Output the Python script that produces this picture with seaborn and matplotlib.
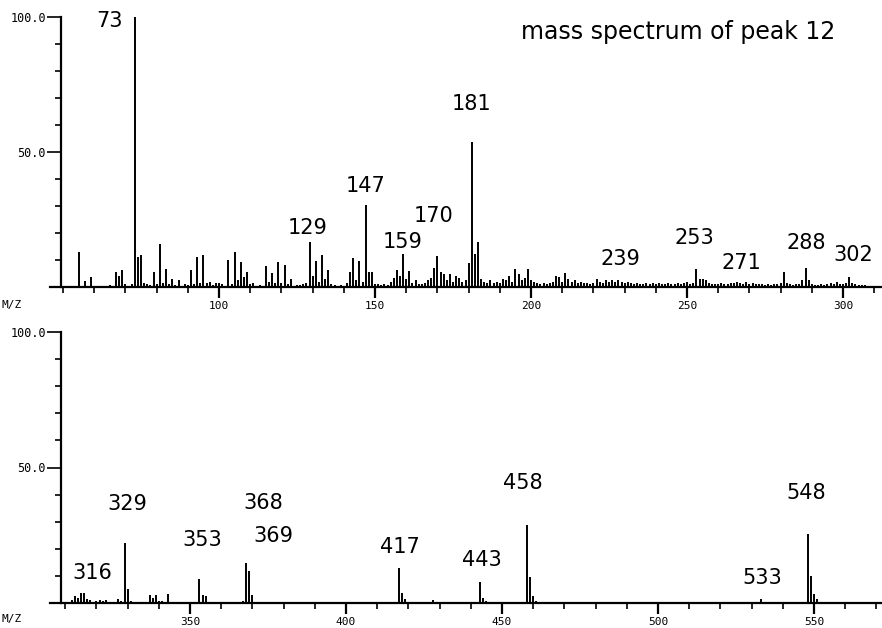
import matplotlib
matplotlib.use("Agg")
import matplotlib.pyplot as plt
import seaborn as sns
from matplotlib.ticker import MultipleLocator

sns.set_style("ticks")
plt.rcParams['font.family'] = ['DejaVu Sans']
plt.rcParams['text.color'] = 'black'
plt.rcParams['xtick.color'] = 'black'
plt.rcParams['ytick.color'] = 'black'
plt.rcParams['axes.edgecolor'] = 'black'

# upper panel: m/z 50-310
top_mz = [55, 57, 59, 60, 63, 65, 67, 68, 69, 70, 72, 73, 74, 75, 76, 77, 78, 79, 80,
          81, 82, 83, 84, 85, 86, 87, 89, 90, 91, 92, 93, 94, 95, 96, 97, 98, 99, 100,
          101, 102, 103, 104, 105, 106, 107, 108, 109, 110, 111, 113, 115, 116, 117,
          118, 119, 120, 121, 122, 123, 125, 126, 127, 128, 129, 130, 131, 132, 133,
          134, 135, 136, 137, 139, 141, 142, 143, 144, 145, 146, 147, 148, 149, 150,
          151, 152, 153, 154, 155, 156, 157, 158, 159, 160, 161, 162, 163, 164, 165,
          166, 167, 168, 169, 170, 171, 172, 173, 174, 175, 176, 177, 178, 179, 180,
          181, 182, 183, 184, 185, 186, 187, 188, 189, 190, 191, 192, 193, 194, 195,
          196, 197, 198, 199, 200, 201, 202, 203, 204, 205, 206, 207, 208, 209, 210,
          211, 212, 213, 214, 215, 216, 217, 218, 219, 220, 221, 222, 223, 224, 225,
          226, 227, 228, 229, 230, 231, 232, 233, 234, 235, 236, 237, 238, 239, 240,
          241, 242, 243, 244, 245, 246, 247, 248, 249, 250, 251, 252, 253, 254, 255,
          256, 257, 258, 259, 260, 261, 262, 263, 264, 265, 266, 267, 268, 269, 270,
          271, 272, 273, 274, 275, 276, 277, 278, 279, 280, 281, 282, 283, 284, 285,
          286, 287, 288, 289, 290, 291, 292, 293, 294, 295, 296, 297, 298, 299, 300,
          301, 302, 303, 304, 305, 306, 307, 309]
top_int = [13, 2.2, 3.7, 0.5, 0.5, 0.6, 5.5, 4, 6.3, 1, 1, 100, 11, 11.8, 1.5, 1.2, 0.8, 5.7, 1,
           15.8, 1.5, 6.7, 1, 3, 0.8, 2.5, 1.2, 0.7, 6.3, 1, 11, 1.5, 11.7, 1.5, 2, 0.8, 1.5, 1.5,
           1.2, 0.5, 10, 1.2, 12.8, 2.5, 9.3, 3.7, 5.7, 1, 1.5, 0.6, 7.9, 2, 5.2,
           1.5, 9.3, 1.5, 8.3, 1, 3, 0.6, 0.8, 1.2, 1.5, 16.8, 4.2, 9.7, 2, 11.8,
           3, 6.3, 1, 0.6, 0.8, 1.5, 5.7, 10.6, 2.5, 9.7, 2, 30.4, 5.5, 5.5, 1,
           1, 0.8, 1, 0.8, 2, 3.5, 6.3, 3.9, 12.1, 3, 5.9, 1.5, 2.5, 1, 1.2,
           1.5, 2.5, 3.5, 7, 11.6, 5.5, 5, 2.5, 4.8, 2, 3.9, 3.5, 2, 2.5, 9,
           53.8, 12.2, 16.8, 3, 2, 1.5, 2.5, 1.5, 2, 1.5, 3, 2.5, 4, 2, 6.5,
           4.9, 2.5, 3.3, 6.8, 2.5, 2, 1.5, 1.2, 1.5, 1, 1.5, 2, 3.9, 3.6, 2,
           5.3, 3, 2, 2.5, 1.5, 2, 1.5, 1.5, 1, 1.5, 3, 2, 1.5, 2.5, 2,
           2.5, 2, 2.5, 2, 1.5, 2, 1.5, 1.2, 1.5, 1, 1.2, 1.5, 1, 1.5, 1.2,
           1.5, 1, 1.2, 1.5, 1, 1.2, 1.5, 1, 1.5, 2, 1.2, 1.5, 6.5, 2.8, 3,
           2.5, 1.5, 1.2, 1, 1.2, 1.5, 1, 1.2, 1.5, 1.5, 2, 1.5, 1.2, 2, 1.2,
           1.5, 1, 1.2, 1, 0.8, 1, 0.8, 1, 1.2, 1.5, 5.7, 1.5, 1, 0.8, 1,
           1.2, 2.5, 6.9, 2.7, 1, 0.8, 0.8, 1, 0.8, 1, 1.6, 1, 2, 1.2, 1,
           1.5, 3.8, 1.5, 1, 0.8, 0.6, 0.8, 0.5]
top_labels = ["73", "129", "147", "159", "170", "181", "239", "253", "271", "288", "302"]

# lower panel: m/z 310-570
bot_mz = [312, 313, 314, 315, 316, 317, 318, 320, 321, 322, 323, 327, 328, 329, 330, 331,
          336, 337, 338, 339, 340, 341, 343, 344, 353, 354, 355, 356, 367, 368, 369, 370,
          371, 417, 418, 419, 428, 443, 444, 445, 458, 459, 460, 461, 533, 548, 549, 550, 551]
bot_int = [1, 2.6, 2, 3.6, 3.6, 1.5, 1, 0.8, 1, 0.7, 1, 1.5, 0.8, 22, 5, 0.8,
           0.5, 3, 2, 2.9, 0.8, 0.7, 3.2, 0.5, 8.7, 2.8, 2.5, 0.5, 0.8, 14.6, 11.8, 2.9,
           0.5, 13, 3.6, 1.5, 1, 7.7, 2, 0.8, 28.8, 9.7, 2.5, 0.8, 1.5, 25.3, 9.8, 3.5, 1.5]
bot_labels = ["316", "329", "353", "368", "369", "417", "443", "458", "533", "548"]

# label placement (data coords), layout only
top_label_pos = [(65, 98.5), (128.5, 21.7), (146.8, 37.3), (158.7, 16.5), (168.6, 26.2),
                 (180.8, 67.6), (228.8, 10.2), (252.2, 18), (267.3, 8.8),
                 (288.1, 16.2), (303.2, 11.7)]
bot_label_pos = [(318.6, 11.1), (329.8, 36.5), (353.8, 23.2), (373.4, 36.9),
                 (376.6, 24.7), (417.3, 20.7), (443.6, 15.9), (456.7, 44.3),
                 (533.3, 9.2), (547.4, 40.6)]

W, H = 882, 628
fig = plt.figure(figsize=(W / 100, H / 100), dpi=100)
ax_top = fig.add_axes([50 / W, 1 - 287 / H, 832 / W, 270 / H])
ax_bot = fig.add_axes([50 / W, 1 - 603 / H, 832 / W, 271 / H])


def draw_panel(ax, mz, inten, labels, label_pos, xlim, spine_x, major):
    ax.vlines(mz, 0, inten, color='black', linewidth=1.4, clip_on=False)
    ax.set_xlim(*xlim)
    ax.set_ylim(0, 100)
    sns.despine(ax=ax)
    ax.spines['left'].set_position(('data', spine_x))
    ax.spines['left'].set_linewidth(1.6)
    ax.spines['bottom'].set_linewidth(1.6)
    ax.set_xticks(major, labels=[str(m) for m in major],
                  fontfamily='DejaVu Sans Mono', fontsize=8)
    ax.xaxis.set_minor_locator(MultipleLocator(10))
    ax.set_yticks([50, 100], labels=['50.0', '100.0'],
                  fontfamily='DejaVu Sans Mono', fontsize=8.5)
    ax.yaxis.set_minor_locator(MultipleLocator(10))
    ax.tick_params(axis='x', which='major', length=8, width=1.6, pad=2,
                   direction='out', bottom=True)
    ax.tick_params(axis='x', which='minor', length=4, width=1.2,
                   direction='out', bottom=True)
    ax.tick_params(axis='y', which='major', length=10, width=1.2, pad=1,
                   direction='out', left=True)
    ax.tick_params(axis='y', which='minor', length=4, width=1.2,
                   direction='out', left=True)
    ax.grid(False)
    for txt, (x, y) in zip(labels, label_pos):
        ax.text(x, y, txt, ha='center', va='center', fontsize=15, color='black')


draw_panel(ax_top, top_mz, top_int, top_labels, top_label_pos,
           (45.8, 312.5), 49.4, [100, 150, 200, 250, 300])
draw_panel(ax_bot, bot_mz, bot_int, bot_labels, bot_label_pos,
           (305.1, 571.8), 308.7, [350, 400, 450, 500, 550])

ax_top.text(247, 94.4, "mass spectrum of peak 12", ha='center', va='center',
            fontsize=17, color='black')

fig.text(12 / W, 1 - 305 / H, "M/Z", ha='center', va='center',
         fontfamily='DejaVu Sans Mono', fontsize=8)
fig.text(12 / W, 1 - 619 / H, "M/Z", ha='center', va='center',
         fontfamily='DejaVu Sans Mono', fontsize=8)

fig.savefig("out.png", dpi=100)
